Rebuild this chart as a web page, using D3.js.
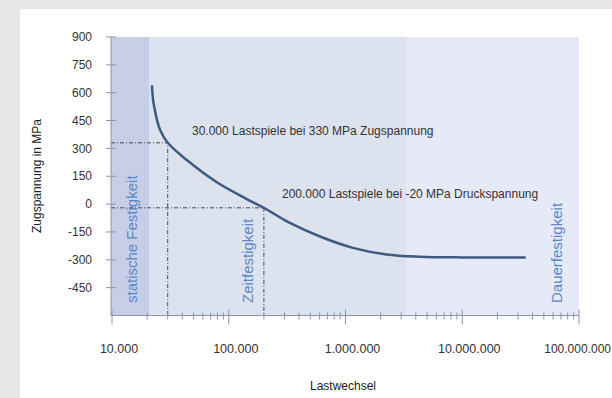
<!DOCTYPE html>
<html><head><meta charset="utf-8">
<script src="https://cdn.jsdelivr.net/npm/d3@7"></script>
<style>
html,body{margin:0;padding:0;background:#e6e6e6;}
svg{display:block;}
text{font-family:"Liberation Sans",Arial,sans-serif;}
</style></head><body>
<svg id="chart" width="612" height="398"></svg>
<script>
// Wöhler curve: load cycles vs. stress amplitude
const cycles = [22000, 22500, 23300, 24300, 25900, 30000, 44000, 78500, 140000, 200000,
                324000, 620000, 1180000, 2240000, 4300000, 10000000, 35000000];
const stress = [640, 560, 506, 452, 398, 330, 236, 119, 30, -20,
                -97, -177, -237, -271, -283, -287, -287];

const yTicks = [-450, -300, -150, 0, 150, 300, 450, 600, 750, 900];
const xTicks = [1e4, 1e5, 1e6, 1e7, 1e8];
const xTickLabels = ["10.000", "100.000", "1.000.000", "10.000.000", "100.000.000"];

const zoneNames = ["statische Festigkeit", "Zeitfestigkeit", "Dauerfestigkeit"];
const zoneEdges = [1e4, 2.1e4, 3.3e6, 1e8];
const zoneFills = ["#c6cee8", "#dce2ee", "#e6e9f8"];

const markCycles = [30000, 200000];
const markStress = [330, -20];
const markLabels = ["30.000 Lastspiele bei 330 MPa Zugspannung",
                    "200.000 Lastspiele bei -20 MPa Druckspannung"];

(function draw() {
  const svg = d3.select("#chart");

  // white card on grey page
  svg.append("rect").attr("x", 20).attr("y", 9).attr("width", 592).attr("height", 389).attr("fill", "#ffffff");

  const pLeft = 111, pRight = 579, pTop = 37, pBottom = 315.5;
  const x = d3.scaleLog().domain([1e4, 1e8]).range([112, pRight]);
  const y = d3.scaleLinear().domain([-600, 900]).range([pBottom, pTop]);

  // strength zones
  const zones = zoneNames.map((n, i) => ({name: n, x0: zoneEdges[i], x1: zoneEdges[i + 1], fill: zoneFills[i]}));
  svg.append("g").selectAll("rect").data(zones).join("rect")
    .attr("x", (d, i) => i === 0 ? pLeft : x(d.x0))
    .attr("width", (d, i) => x(d.x1) - (i === 0 ? pLeft : x(d.x0)))
    .attr("y", y(900)).attr("height", y(-600) - y(900))
    .attr("fill", d => d.fill);

  // zone captions
  const zoneLabelX = [132, 248, 557];
  svg.append("g").selectAll("text").data(zones).join("text")
    .attr("transform", (d, i) => `translate(${zoneLabelX[i]},303) rotate(-90)`)
    .attr("dy", "0.35em")
    .attr("font-size", 15)
    .attr("fill", "#5b87c9")
    .text(d => d.name);

  // reference lines for the two marked points
  const marks = markCycles.map((c, i) => ({c, s: markStress[i], label: markLabels[i]}));
  svg.append("g").selectAll("path").data(marks).join("path")
    .attr("d", d => `M${pLeft},${y(d.s)}H${x(d.c)}V${pBottom}`)
    .attr("fill", "none")
    .attr("stroke", "#4a4a4a")
    .attr("stroke-width", 1)
    .attr("stroke-dasharray", "4,2,1,2");

  // axes
  const axisColor = "#8796ad";
  const gy = svg.append("g");
  gy.append("line").attr("x1", pLeft).attr("x2", pLeft).attr("y1", pTop).attr("y2", pBottom)
    .attr("stroke", axisColor);
  gy.selectAll("line.tick").data(yTicks).join("line").attr("class", "tick")
    .attr("x1", pLeft - 5).attr("x2", pLeft + 5)
    .attr("y1", d => y(d)).attr("y2", d => y(d))
    .attr("stroke", axisColor);
  gy.selectAll("text").data(yTicks).join("text")
    .attr("x", 92).attr("y", d => y(d)).attr("dy", "0.35em")
    .attr("text-anchor", "end").attr("font-size", 12).attr("fill", "#333")
    .text(d => d);

  const minor = [];
  [1e4, 1e5, 1e6, 1e7].forEach(d => { for (let k = 2; k <= 9; k++) minor.push(d * k); });
  const gx = svg.append("g");
  gx.append("line").attr("x1", pLeft).attr("x2", pRight).attr("y1", pBottom).attr("y2", pBottom)
    .attr("stroke", axisColor);
  gx.selectAll("line.minor").data(minor).join("line").attr("class", "minor")
    .attr("x1", d => x(d)).attr("x2", d => x(d))
    .attr("y1", pBottom - 3).attr("y2", pBottom + 4)
    .attr("stroke", axisColor);
  gx.selectAll("line.major").data(xTicks).join("line").attr("class", "major")
    .attr("x1", d => x(d)).attr("x2", d => x(d))
    .attr("y1", pBottom - 6).attr("y2", pBottom + 9)
    .attr("stroke", axisColor);
  const last = xTicks.length - 1;
  gx.selectAll("text").data(xTicks).join("text")
    .attr("x", (d, i) => i === last ? 611 : x(d) + 7).attr("y", 349).attr("dy", "0.35em")
    .attr("text-anchor", (d, i) => i === last ? "end" : "middle")
    .attr("font-size", (d, i) => i === last ? 12 : 12.5).attr("fill", "#333")
    .text((d, i) => xTickLabels[i]);

  // axis titles
  svg.append("text").attr("transform", "translate(37,176) rotate(-90)")
    .attr("text-anchor", "middle").attr("dy", "0.35em")
    .attr("font-size", 12).attr("fill", "#222").text("Zugspannung in MPa");
  svg.append("text").attr("x", 343).attr("y", 386).attr("dy", "0.35em")
    .attr("text-anchor", "middle").attr("font-size", 12).attr("fill", "#222").text("Lastwechsel");

  // S-N curve
  const pts = cycles.map((c, i) => [x(c), y(stress[i])]);
  svg.append("path").datum(pts)
    .attr("d", d3.line().curve(d3.curveCatmullRom.alpha(0.5)))
    .attr("fill", "none")
    .attr("stroke", "#3f5a7f")
    .attr("stroke-width", 2.5);

  // point annotations
  const noteX = [192, 282], noteY = [131, 194];
  svg.append("g").selectAll("text").data(marks).join("text")
    .attr("x", (d, i) => noteX[i]).attr("y", (d, i) => noteY[i]).attr("dy", "0.35em")
    .attr("font-size", 12).attr("fill", "#333")
    .text(d => d.label);
})();
</script>
</body></html>
